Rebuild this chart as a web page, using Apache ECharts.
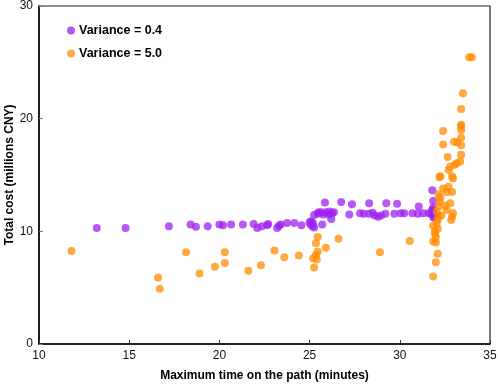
<!DOCTYPE html>
<html>
<head>
<meta charset="utf-8">
<script src="https://cdn.jsdelivr.net/npm/echarts@6/dist/echarts.min.js"></script>
<style>
  html, body { margin: 0; padding: 0; background: #fff; }
  #main { width: 498px; height: 386px; }
</style>
</head>
<body>
<div id="main"></div>
<script>
// series names
var seriesNames = ["Variance = 0.4", "Variance = 5.0"];

// [max time (min), total cost (millions CNY)]
var lowVariance = [
  [13.2,10.3],[14.8,10.3],[17.2,10.45],[18.4,10.6],[18.7,10.4],[19.35,10.45],[20.0,10.6],[20.2,10.55],
  [20.65,10.6],[21.3,10.6],[21.9,10.65],[22.1,10.3],[22.35,10.45],[22.65,10.55],[22.7,10.65],[23.2,10.3],
  [23.3,10.5],[23.4,10.6],[23.75,10.75],[24.15,10.75],[24.55,10.55],[25.0,10.8],[25.05,10.6],[25.1,10.9],
  [25.15,10.45],[25.2,10.7],[25.25,10.35],[25.7,10.6],[25.25,11.45],[25.45,11.55],[25.5,11.7],[25.65,11.7],
  [25.75,11.5],[25.9,11.7],[26.05,11.5],[26.1,11.75],[26.25,11.6],[26.35,11.7],[26.2,11.1],[25.85,12.55],
  [26.75,12.6],[27.35,12.4],[27.2,11.5],[27.8,11.6],[28.0,11.55],[28.3,11.55],[28.3,12.5],[28.5,11.65],
  [28.6,11.4],[28.8,11.3],[28.95,11.4],[29.2,11.55],[29.25,12.5],[29.7,11.55],[29.85,12.45],[30.05,11.6],
  [30.25,11.6],[30.7,11.6],[31.0,11.55],[31.05,12.2],[31.3,11.6],[31.6,11.6],[31.75,11.55],[31.8,13.65],
  [31.85,12.7],[31.85,11.8],[31.85,11.3],[31.9,11.2],[31.85,12.1],[31.9,11.5],[31.8,11.9]
];

var highVariance = [
  [11.8,8.25],[16.6,5.9],[16.7,4.9],[18.15,8.15],[18.9,6.25],[19.75,6.85],[20.3,8.15],[20.3,7.2],
  [21.6,6.5],[22.3,7.0],[23.05,8.3],[23.6,7.7],[24.4,7.85],[25.25,6.8],[25.2,7.6],[25.35,7.9],
  [25.45,8.2],[25.35,8.95],[25.45,9.5],[25.4,7.5],[25.9,8.55],[26.6,9.35],[28.9,8.15],[30.55,9.15],
  [31.85,6.0],[32.0,7.25],[32.1,8.0],[31.85,9.1],[32.0,9.0],[31.95,9.8],[31.85,10.5],[32.05,10.7],
  [32.15,11.3],[32.05,11.75],[32.15,12.2],[32.2,12.6],[32.15,13.3],[32.2,14.8],[32.25,14.9],[32.4,13.8],
  [32.7,13.95],[32.6,13.5],[32.9,13.5],[32.8,12.5],[32.9,11.3],[32.95,11.6],[32.85,11.0],[32.7,15.45],
  [32.65,16.6],[32.4,17.7],[32.4,18.9],[32.8,15.75],[32.9,14.9],[32.95,14.7],[33.05,15.9],[33.15,16.05],
  [33.35,16.2],[33.0,17.95],[33.2,17.9],[33.4,17.65],[33.4,18.3],[33.4,19.0],[33.4,19.3],[33.4,19.45],
  [33.4,20.85],[33.5,22.25],[33.4,16.8],[33.85,25.45],[34.0,25.45],[32.1,10.2],[32.0,9.5],[31.95,10.0],
  [32.1,11.0],[32.3,11.4],[32.6,11.9],[32.5,12.3],[32.25,13.0]
];

var chartDom = document.getElementById("main");
var myChart = echarts.init(chartDom);
var font = "Arial, 'Liberation Sans', sans-serif";

var option = {
    backgroundColor: "#fff",
    animation: false,
    textStyle: { fontFamily: font },
    grid: {
        left: 39,
        right: 8,
        top: 6,
        bottom: 42,
        containLabel: false,
        outerBoundsMode: "none",
        show: true,
        borderColor: "#222",
        borderWidth: 1.2,
    },
    legend: {
        left: 62,
        top: 19,
        orient: "vertical",
        itemGap: 10,
        itemWidth: 8,
        itemHeight: 8,
        icon: "circle",
        textStyle: {
            fontFamily: font,
            fontSize: 12.5,
            fontWeight: "bold",
            color: "#000",
            padding: [0, 0, 0, -1],
        },
        data: seriesNames,
    },
    xAxis: {
        type: "value",
        min: 10,
        max: 35,
        interval: 5,
        name: "Maximum time on the path (minutes)",
        nameLocation: "middle",
        nameGap: 26,
        nameTextStyle: { fontFamily: font, fontSize: 12, fontWeight: "bold", color: "#000" },
        splitLine: { show: false },
        axisLine: { lineStyle: { color: "#000", width: 1.5 } },
        axisTick: { inside: true, length: 4, lineStyle: { color: "#333" } },
        axisLabel: { fontFamily: font, fontSize: 12, color: "#111", margin: 6 },
    },
    yAxis: {
        type: "value",
        min: 0,
        max: 30,
        interval: 10,
        name: "Total cost (millions CNY)",
        nameLocation: "middle",
        nameGap: 23,
        nameMoveOverlap: false,
        nameTextStyle: { fontFamily: font, fontSize: 12, fontWeight: "bold", color: "#000" },
        splitLine: { show: false },
        axisLine: { show: true, lineStyle: { color: "#000", width: 1.5 } },
        axisTick: { show: true, inside: true, length: 4, lineStyle: { color: "#777" } },
        axisLabel: { fontFamily: font, fontSize: 12, color: "#111", margin: 6 },
    },
    series: [
        {
            name: seriesNames[0],
            type: "scatter",
            symbolSize: 8,
            itemStyle: { color: "#a020f0", opacity: 0.75 },
            data: lowVariance,
        },
        {
            name: seriesNames[1],
            type: "scatter",
            symbolSize: 8,
            itemStyle: { color: "#ff8c00", opacity: 0.75 },
            data: highVariance,
        },
    ],
};

option && myChart.setOption(option);
</script>
</body>
</html>
